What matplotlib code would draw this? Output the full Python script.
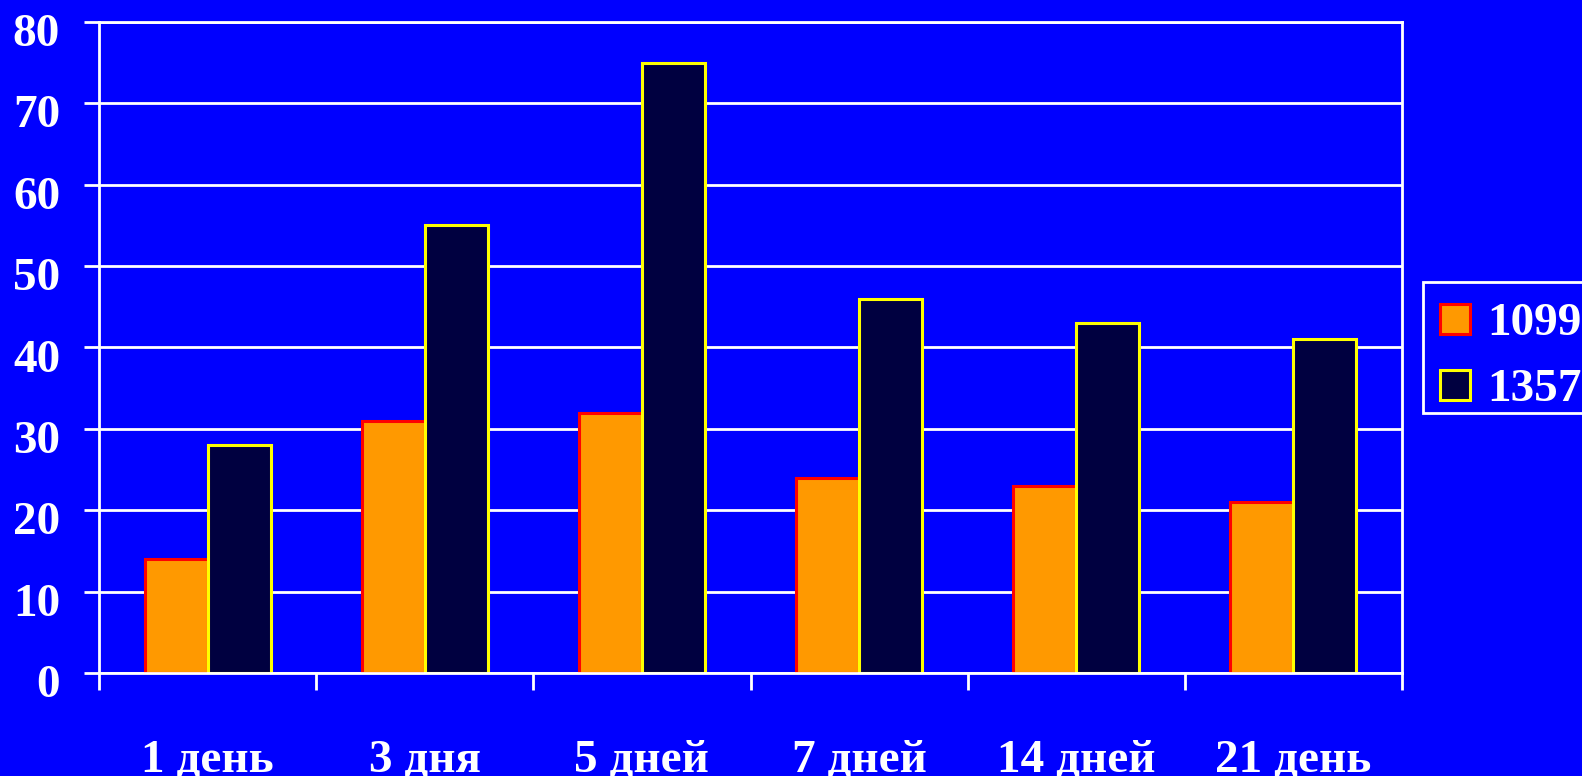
import numpy as np
import matplotlib.pyplot as plt
import matplotlib.patches as mpatches
import matplotlib.transforms as mtransforms

# ── data ─────────────────────────────────────────────────────
categories = ["1 день", "3 дня", "5 дней", "7 дней", "14 дней", "21 день"]
series_names = ["1099", "1357"]
values_1099 = [14, 31, 32, 24, 23, 21]
values_1357 = [28, 55, 75, 46, 43, 41]
y_ticks = [0, 10, 20, 30, 40, 50, 60, 70, 80]

# ── style ────────────────────────────────────────────────────
BG = "#0000FF"
FONT = "Liberation Serif"
FSIZE = 34
W, H = 1582, 776
face_colors = ["#FF9900", "#000040"]
edge_colors = ["#FF0000", "#FFFF00"]

plt.rcParams['font.family'] = [FONT, 'DejaVu Serif']
plt.rcParams['font.weight'] = 'bold'

fig = plt.figure(figsize=(W / 100, H / 100), dpi=100, facecolor=BG)
ax = fig.add_axes([99 / W, 1 - 673 / H, (1402 - 99) / W, (673 - 22) / H])
ax.set_facecolor(BG)

x = np.arange(len(categories))
bw = 0.29
for i, vals in enumerate([values_1099, values_1357]):
    ax.bar(x + (i - 0.5) * bw, vals, bw, color=face_colors[i],
           edgecolor=edge_colors[i], linewidth=2.2, zorder=3,
           label=series_names[i])

ax.set_xlim(-0.5, len(categories) - 0.5)
ax.set_ylim(0, 80)
ax.set_yticks(y_ticks)
ax.set_yticklabels([str(v) for v in y_ticks])
ax.yaxis.grid(True, color="white", linewidth=2.0, zorder=1)
ax.set_axisbelow(True)

# category boundaries carry the tick marks, labels sit in the middle
ax.set_xticks(np.arange(-0.5, len(categories), 1.0))
ax.set_xticklabels([])
ax.set_xticks(x, minor=True)
ax.set_xticklabels(categories, minor=True)
ax.tick_params(axis='x', which='major', direction='out', length=12,
               width=2, color="white")
ax.tick_params(axis='x', which='minor', length=0, pad=48.5,
               labelsize=FSIZE, labelcolor="white")
ax.tick_params(axis='y', direction='out', length=11, width=2, color="white",
               pad=17, labelsize=FSIZE, labelcolor="white")

for sp in ax.spines.values():
    sp.set_color("white")
    sp.set_linewidth(2.0)
ax.spines['bottom'].set_zorder(4)

# y labels sit a little below their grid lines in the original
shift = mtransforms.ScaledTranslation(0, -8 / 100, fig.dpi_scale_trans)
for lab in ax.get_yticklabels():
    lab.set_transform(lab.get_transform() + shift)

for lab in ax.get_xticklabels(minor=True) + ax.get_yticklabels():
    lab.set_fontweight('bold')
    lab.set_fontfamily(FONT)

# ── legend, drawn by hand (box runs off the right edge) ──────
def fx(px):
    return px / W


def fy(py):
    return 1 - py / H


fig.patches.append(mpatches.Rectangle(
    (fx(1423), fy(413)), fx(1700) - fx(1423), fy(282) - fy(413),
    transform=fig.transFigure, facecolor=BG, edgecolor="white",
    linewidth=2.0, zorder=5))

row_centers = [319, 385]
for i, name in enumerate(series_names):
    cy = row_centers[i]
    fig.patches.append(mpatches.Rectangle(
        (fx(1440), fy(cy + 15)), fx(1470) - fx(1440), fy(cy - 15) - fy(cy + 15),
        transform=fig.transFigure, facecolor=face_colors[i],
        edgecolor=edge_colors[i], linewidth=2.2, zorder=6))
    fig.text(fx(1487), fy(cy + 16), name, color="white", fontsize=FSIZE,
             fontweight='bold', family=FONT, ha='left', va='baseline',
             zorder=7)

fig.savefig("out.png", dpi=100, facecolor=BG)
